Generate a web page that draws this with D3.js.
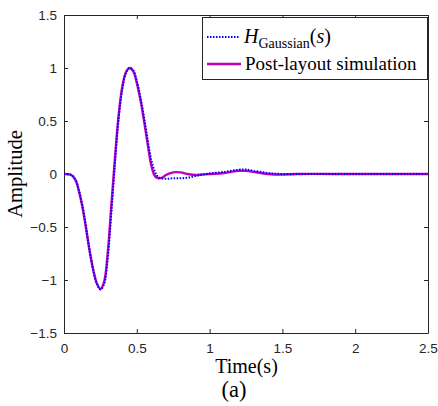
<!DOCTYPE html>
<html>
<head>
<meta charset="utf-8">
<script src="https://cdn.jsdelivr.net/npm/d3@7"></script>
<style>
  body { margin: 0; background: #fff; }
  svg { display: block; }
</style>
</head>
<body>
<svg id="chart"></svg>
<script>
// time samples (s) and the two responses
let timeGauss = [0, 0.05, 0.08, 0.1, 0.125, 0.15, 0.175, 0.2, 0.225, 0.25, 0.275, 0.3, 0.325, 0.35, 0.375, 0.4, 0.425, 0.45, 0.475, 0.5, 0.525, 0.55, 0.575, 0.6, 0.625, 0.65, 0.7, 0.75, 0.8, 0.85, 0.9, 0.95, 1.0, 1.1, 1.2, 1.25, 1.3, 1.4, 1.5, 1.7, 2.0, 2.5]
let ampGauss = [0, -0.008, -0.055, -0.14, -0.29, -0.49, -0.71, -0.9, -1.03, -1.09, -1.04, -0.8, -0.37, 0.1, 0.52, 0.8, 0.95, 1.0, 0.98, 0.88, 0.72, 0.53, 0.32, 0.13, 0.02, -0.03, -0.045, -0.04, -0.04, -0.035, -0.02, -0.005, 0.005, 0.02, 0.04, 0.042, 0.03, 0.01, 0, 0, 0, 0]

let timeSim = [0, 0.05, 0.08, 0.1, 0.125, 0.15, 0.175, 0.2, 0.225, 0.25, 0.275, 0.3, 0.325, 0.35, 0.375, 0.4, 0.425, 0.45, 0.475, 0.5, 0.525, 0.55, 0.575, 0.6, 0.625, 0.65, 0.675, 0.7, 0.75, 0.8, 0.85, 0.9, 0.95, 1.0, 1.1, 1.2, 1.25, 1.3, 1.4, 1.5, 1.6, 2.0, 2.5]
let ampSim = [0, -0.01, -0.06, -0.15, -0.3, -0.5, -0.72, -0.9, -1.03, -1.085, -1.02, -0.75, -0.3, 0.15, 0.55, 0.82, 0.96, 1.0, 0.97, 0.86, 0.7, 0.5, 0.28, 0.08, -0.02, -0.04, -0.035, -0.01, 0.015, 0.015, 0.0, -0.01, -0.005, 0.0, 0.01, 0.03, 0.03, 0.02, 0.0, -0.005, 0, 0, 0]

let xTicks = [0, 0.5, 1, 1.5, 2, 2.5]
let yTicks = [-1.5, -1, -0.5, 0, 0.5, 1, 1.5]

let width = 438
let height = 406
let plotLeft = 64
let plotRight = 428
let plotTop = 15
let plotBottom = 333

let svg = d3.select('#chart')
svg.attr('width', width).attr('height', height)

let xScale = d3.scaleLinear().domain([0, 2.5]).range([plotLeft, plotRight])
let yScale = d3.scaleLinear().domain([-1.5, 1.5]).range([plotBottom, plotTop])

let axisColor = '#262626'

// axes with inward ticks on all four sides
let xAxis = d3.axisBottom(xScale).tickValues(xTicks).tickSizeInner(-4).tickSizeOuter(0).tickPadding(10)
    .tickFormat(d3.format('~g'))
let yAxis = d3.axisLeft(yScale).tickValues(yTicks).tickSizeInner(-4).tickSizeOuter(0).tickPadding(7)
    .tickFormat(d3.format('~g'))

let gx = svg.append('g').attr('transform', 'translate(0,' + plotBottom + ')').call(xAxis)
let gy = svg.append('g').attr('transform', 'translate(' + plotLeft + ',0)').call(yAxis)
let gxTop = svg.append('g').attr('transform', 'translate(0,' + plotTop + ')')
    .call(d3.axisTop(xScale).tickValues(xTicks).tickSizeInner(-4).tickSizeOuter(0).tickFormat(''))
let gyRight = svg.append('g').attr('transform', 'translate(' + plotRight + ',0)')
    .call(d3.axisRight(yScale).tickValues(yTicks).tickSizeInner(-4).tickSizeOuter(0).tickFormat(''))

;[gx, gy, gxTop, gyRight].forEach(g => {
    g.select('.domain').attr('stroke', axisColor).attr('stroke-width', 1)
    g.selectAll('.tick line').attr('stroke', axisColor)
    g.selectAll('.tick text')
        .attr('fill', axisColor)
        .style('font-family', 'Arial, "Liberation Sans", sans-serif')
        .style('font-size', '13.5px')
})

// curves
let line = d3.line()
    .x(d => xScale(d[0]))
    .y(d => yScale(d[1]))
    .curve(d3.curveCatmullRom.alpha(0.5))

let simData = d3.zip(timeSim, ampSim)
let gaussData = d3.zip(timeGauss, ampGauss)

svg.append('path')
    .datum(simData)
    .attr('d', line)
    .attr('fill', 'none')
    .attr('stroke', '#c000c0')
    .attr('stroke-width', 2.4)

svg.append('path')
    .datum(gaussData)
    .attr('d', line)
    .attr('fill', 'none')
    .attr('stroke', '#0000ff')
    .attr('stroke-width', 2)
    .attr('stroke-dasharray', '1.5,1.5')

// legend
let legend = svg.append('g')
legend.append('rect')
    .attr('x', 202.5).attr('y', 17.5)
    .attr('width', 225).attr('height', 62)
    .attr('fill', '#fff')
    .attr('stroke', axisColor)
    .attr('stroke-width', 1)

legend.append('line')
    .attr('x1', 207).attr('x2', 239).attr('y1', 37).attr('y2', 37)
    .attr('stroke', '#0000ff').attr('stroke-width', 2).attr('stroke-dasharray', '1.5,1.5')
legend.append('line')
    .attr('x1', 207).attr('x2', 241).attr('y1', 64).attr('y2', 64)
    .attr('stroke', '#c000c0').attr('stroke-width', 2.4)

let serif = '"Times New Roman", "Liberation Serif", serif'
let lbl1 = legend.append('text')
    .attr('x', 244).attr('y', 43)
    .style('font-family', serif).style('font-size', '20px').attr('fill', '#000')
lbl1.append('tspan').style('font-style', 'italic').text('H')
lbl1.append('tspan').attr('dy', 5).style('font-size', '14px').text('Gaussian')
lbl1.append('tspan').attr('dy', -5).text('(')
lbl1.append('tspan').style('font-style', 'italic').text('s')
lbl1.append('tspan').text(')')

legend.append('text')
    .attr('x', 245).attr('y', 70)
    .style('font-family', serif).style('font-size', '19px').attr('fill', '#000')
    .text('Post-layout simulation')

// axis titles
svg.append('text')
    .attr('transform', 'translate(22,' + yScale(0) + ') rotate(-90)')
    .attr('text-anchor', 'middle')
    .style('font-family', serif).style('font-size', '20.5px')
    .text('Amplitude')

svg.append('text')
    .attr('x', 246.5).attr('y', 373)
    .attr('text-anchor', 'middle')
    .style('font-family', serif).style('font-size', '20px')
    .text('Time(s)')

svg.append('text')
    .attr('x', 234).attr('y', 397)
    .attr('text-anchor', 'middle')
    .style('font-family', serif).style('font-size', '22.5px')
    .text('(a)')
</script>
</body>
</html>
